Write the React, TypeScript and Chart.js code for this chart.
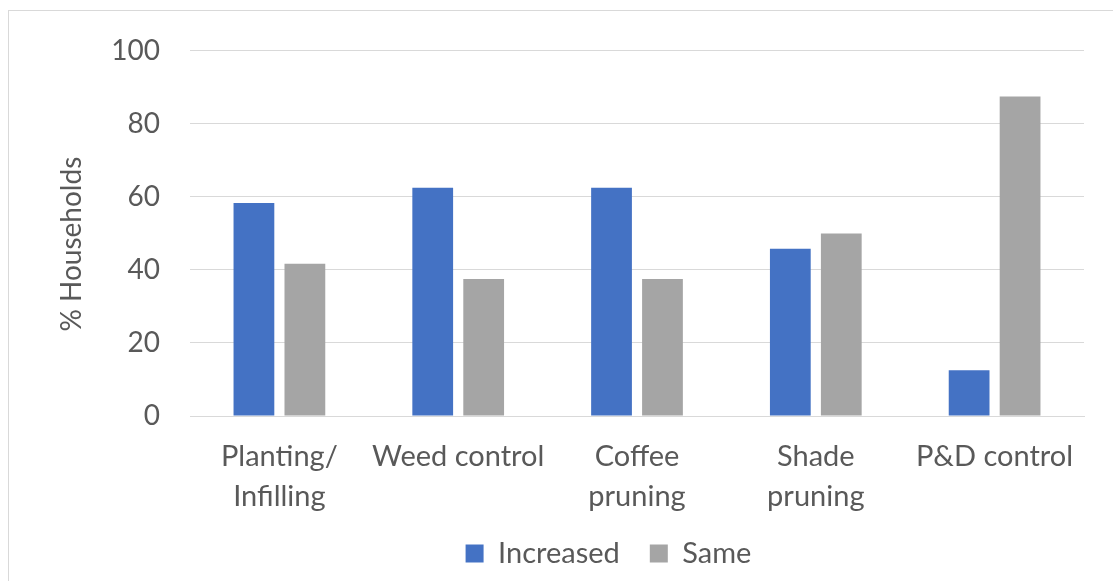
import React, { useEffect, useRef } from "react";
import { Chart, registerables } from "chart.js";
Chart.register(...registerables);

const categories: (string | string[])[] = [
  ["Planting/", "Infilling"],
  "Weed control",
  ["Coffee", "pruning"],
  ["Shade", "pruning"],
  "P&D control",
];
const increased = [58.3, 62.5, 62.5, 45.8, 12.5];
const same = [41.7, 37.5, 37.5, 50, 87.5];
const seriesNames = ["Increased", "Same"];
const yTickValues = [0, 20, 40, 60, 80, 100];
const yTitle = "% Households";

const FONT = "Lato";
const TEXT = "#595959";

const layoutTweaks = {
  id: "layoutTweaks",
  afterLayout(chart: any) {
    const l = chart.legend;
    if (l) {
      l.left += 62;
      l.right += 62;
    }
    const x = chart.scales.x;
    if (x) x.bottom += 30; // let the label clip area include descenders
  },
};

export default function App() {
  const ref = useRef<HTMLCanvasElement | null>(null);
  useEffect(() => {
    document.body.style.overflow = "hidden";
    const ctx = ref.current!;
    const chart = new Chart(ctx, {
      type: "bar",
      data: {
        labels: categories,
        datasets: [
          {
            label: seriesNames[0],
            data: increased,
            backgroundColor: "#4472C4",
            categoryPercentage: 0.57,
            barPercentage: 0.8,
          },
          {
            label: seriesNames[1],
            data: same,
            backgroundColor: "#A5A5A5",
            categoryPercentage: 0.57,
            barPercentage: 0.8,
          },
        ],
      },
      plugins: [layoutTweaks],
      options: {
        animation: false,
        responsive: false,
        maintainAspectRatio: false,
        layout: { padding: { left: 0, right: 33, top: 16, bottom: 11 } },
        plugins: {
          legend: {
            position: "bottom",
            labels: {
              boxWidth: 18,
              boxHeight: 18,
              padding: 30,
              color: TEXT,
              font: { family: FONT, size: 29 },
            },
          },
          tooltip: { enabled: false },
        },
        scales: {
          x: {
            afterFit: (s: any) => {
              s.height = 93;
            },
            grid: { display: false },
            border: { display: true, color: "#d9d9d9", width: 1 },
            ticks: {
              color: TEXT,
              font: { family: FONT, size: 29, lineHeight: 1.38 },
              padding: 13,
              maxRotation: 0,
              autoSkip: false,
            },
          },
          y: {
            min: 0,
            max: 100,
            afterBuildTicks: (s: any) => {
              s.ticks = yTickValues.map((v) => ({ value: v }));
            },
            afterFit: (s: any) => {
              s.width = 181;
            },
            grid: {
              color: "#d9d9d9",
              lineWidth: 1,
              drawTicks: true,
              tickLength: 7,
              tickColor: "rgba(0,0,0,0)",
            },
            border: { display: false },
            ticks: {
              color: TEXT,
              font: { family: FONT, size: 28 },
              padding: 23,
            },
            title: {
              display: true,
              text: yTitle + "   ",
              color: TEXT,
              font: { family: FONT, size: 28 },
              padding: { top: 46, bottom: 0 },
            },
          },
        },
      },
    });
    return () => chart.destroy();
  }, []);
  return (
    <div
      style={{
        position: "fixed",
        left: 8,
        top: 10,
        width: 1120,
        height: 600,
        border: "1px solid #d9d9d9",
        background: "#fff",
        overflow: "hidden",
      }}
    >
      <canvas ref={ref} width={1108} height={578} style={{ display: "block" }} />
    </div>
  );
}
